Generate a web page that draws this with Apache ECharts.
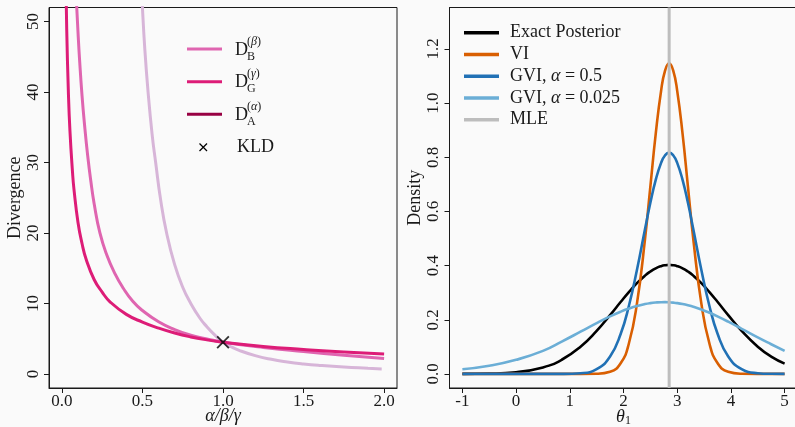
<!DOCTYPE html>
<html><head><meta charset="utf-8">
<script src="https://cdn.jsdelivr.net/npm/echarts@6/dist/echarts.min.js"></script>
<style>html,body{margin:0;padding:0;background:#fafafa}#c{width:795px;height:427px}</style>
</head><body><div id="c"></div><script>
// ---- left panel data (divergence vs alpha/beta/gamma) ----
const paramG = [0.025,0.03,0.04,0.05,0.066,0.075,0.1,0.125,0.15,0.2,0.25,0.3,0.4,0.5,0.6,0.7,0.8,0.9,1.0,1.25,1.5,1.75,2.0];
const divG   = [55.3,48.9,40.2,34.5,28.6,26.2,21.5,18.5,16.3,13.4,11.6,10.2,8.45,7.35,6.5,5.8,5.25,4.83,4.5,3.9,3.47,3.1,2.81];
const paramB = [0.09,0.1,0.11,0.125,0.14,0.16,0.18,0.2,0.236,0.28,0.33,0.38,0.44,0.5,0.6,0.7,0.8,0.9,1.0,1.25,1.5,1.75,2.0];
const divB   = [53,48.5,44.5,39.5,35.5,31,27.3,24.2,20,16.8,14.2,12.2,10.3,9.0,7.4,6.3,5.5,4.95,4.5,3.75,3.17,2.65,2.18];
const paramA = [0.495,0.5,0.515,0.535,0.56,0.582,0.613,0.65,0.7,0.75,0.8,0.857,0.9,0.95,1.0,1.05,1.1,1.2,1.3,1.4,1.5,1.6,1.75,1.9,1.985];
const divA   = [55,52,46,40,34,30,24.7,20,15.5,12.3,10.0,7.9,6.7,5.5,4.5,3.85,3.34,2.59,2.07,1.70,1.42,1.21,0.97,0.80,0.71];
const kldPoint = [1.0, 4.5];
const leftXTicks = [0,0.5,1,1.5,2];
const leftYTicks = [0,10,20,30,40,50];

// ---- right panel data (densities vs theta_1) ----
const theta   = [-1,-0.5,0,0.5,0.85,1.2,1.5,1.75,1.95,2.1,2.25,2.4,2.5,2.6,2.7,2.775,2.85,2.925,3.0,3.1,3.2,3.3,3.45,3.6,3.75,3.95,4.2,4.5,4.75,5.0];
const exactPost = [0.0002,0.0013,0.0064,0.0241,0.0523,0.1004,0.1589,0.2171,0.2663,0.3021,0.3350,0.3630,0.3781,0.3899,0.3979,0.4013,0.4025,0.4013,0.3979,0.3899,0.3781,0.3630,0.3350,0.3021,0.2663,0.2171,0.1589,0.1004,0.0638,0.0381];
const viDens    = [0,0,0,0,0,0,0.0006,0.0078,0.0405,0.1124,0.2594,0.4971,0.6917,0.8862,1.0453,1.1207,1.147,1.1207,1.0453,0.8862,0.6917,0.4971,0.2594,0.1124,0.0405,0.0078,0.0006,0,0,0];
const gvi05     = [0,0,0,0,0.0002,0.0027,0.0178,0.0644,0.1492,0.2508,0.3837,0.5341,0.6317,0.7165,0.7793,0.8074,0.817,0.8074,0.7793,0.7165,0.6317,0.5341,0.3837,0.2508,0.1492,0.0644,0.0178,0.0027,0.0004,0.0001];
const gvi0025   = [0.017,0.030,0.052,0.085,0.1194,0.1559,0.1877,0.2125,0.2301,0.2414,0.2508,0.2579,0.2614,0.2637,0.2649,0.2650,0.2644,0.2632,0.2614,0.2579,0.2534,0.2479,0.2378,0.2259,0.2125,0.1928,0.1666,0.1348,0.1096,0.0850];
const mleTheta = 2.85;
const rightXTicks = [-1,0,1,2,3,4,5];
const rightYTicks = [0,0.2,0.4,0.6,0.8,1.0,1.2];

const FONT = '"Liberation Serif","Times New Roman",serif';
const INK = '#1a1a1a';
const zip = (xs, ys) => xs.map((x, i) => [x, ys[i]]);

const chart = echarts.init(document.getElementById('c'), null, {renderer: 'canvas'});

function xAxisCfg(gi, min, max, ticks, fmt, name, nameRich) {
  return {
    gridIndex: gi, type: 'value', min: min, max: max,
    axisLine: {show: true, onZero: false, lineStyle: {color: INK, width: 1}},
    axisTick: {show: true, length: 5, customValues: ticks, lineStyle: {color: INK}},
    axisLabel: {customValues: ticks, formatter: fmt, color: INK, fontFamily: FONT, fontSize: 17, margin: 5},
    splitLine: {show: false},
    name: name, nameLocation: 'middle', nameGap: 19, nameMoveOverlap: false,
    nameTextStyle: Object.assign({fontFamily: FONT, fontSize: 18, color: INK}, nameRich || {})
  };
}
function yAxisCfg(gi, min, max, ticks, fmt, name) {
  return {
    gridIndex: gi, type: 'value', min: min, max: max,
    axisLine: {show: true, onZero: false, lineStyle: {color: INK, width: 1}},
    axisTick: {show: true, length: 5, customValues: ticks, lineStyle: {color: INK}},
    axisLabel: {customValues: ticks, formatter: fmt, color: INK, fontFamily: FONT, fontSize: 17, margin: 7, rotate: 90},
    splitLine: {show: false},
    name: name, nameLocation: 'middle', nameGap: 25, nameMoveOverlap: false,
    nameTextStyle: {fontFamily: FONT, fontSize: 18, color: INK}
  };
}

function lineSeries(name, xi, yi, data, color, width) {
  return {
    name: name, type: 'line', xAxisIndex: xi, yAxisIndex: yi, data: data,
    showSymbol: false, symbol: 'none', smooth: 0.5, clip: true,
    color: color, itemStyle: {color: color},
    lineStyle: {color: color, width: width}, emphasis: {disabled: true}
  };
}

// left legend (graphic, needs stacked sub/superscripts)
const legRows = [
  {y: 49,    sup: 'β', sub: 'B', color: '#DF65B0'},
  {y: 81.7,  sup: 'γ', sub: 'G', color: '#DD1C77'},
  {y: 114.3, sup: 'α', sub: 'A', color: '#980043'}
];
const graphic = [];
legRows.forEach(r => {
  graphic.push({type: 'line', shape: {x1: 187, y1: r.y, x2: 222, y2: r.y}, style: {stroke: r.color, lineWidth: 3}});
  graphic.push({type: 'text', x: 235, y: r.y + 1, style: {text: 'D', fontFamily: FONT, fontSize: 18, fill: INK, align: 'left', verticalAlign: 'middle'}});
  graphic.push({type: 'text', x: 247, y: r.y - 7.5, style: {text: '({i|' + r.sup + '})', fontFamily: FONT, fontSize: 12, fill: INK, align: 'left', verticalAlign: 'middle',
    rich: {i: {fontFamily: FONT, fontSize: 12, fontStyle: 'italic', fill: INK}}}});
  graphic.push({type: 'text', x: 247, y: r.y + 7.5, style: {text: r.sub, fontFamily: FONT, fontSize: 12, fill: INK, align: 'left', verticalAlign: 'middle'}});
});
graphic.push({type: 'line', shape: {x1: 199.5, y1: 143.5, x2: 207, y2: 151}, style: {stroke: '#000', lineWidth: 1.3}});
graphic.push({type: 'line', shape: {x1: 207, y1: 143.5, x2: 199.5, y2: 151}, style: {stroke: '#000', lineWidth: 1.3}});
graphic.push({type: 'text', x: 237, y: 147, style: {text: 'KLD', fontFamily: FONT, fontSize: 18, fill: INK, align: 'left', verticalAlign: 'middle'}});

const option = {
  backgroundColor: '#fafafa',
  animation: false,
  grid: [
    {left: 49, top: 7.5, width: 348, height: 380.5, show: true, borderColor: INK, borderWidth: 1, backgroundColor: 'transparent', outerBoundsMode: 'none', containLabel: false},
    {left: 449.5, top: 7.5, width: 348, height: 380.5, show: true, borderColor: INK, borderWidth: 1, backgroundColor: 'transparent', outerBoundsMode: 'none', containLabel: false}
  ],
  xAxis: [
    xAxisCfg(0, -0.08, 2.08, leftXTicks, v => v.toFixed(1), 'α/β/γ', {fontStyle: 'italic'}),
    xAxisCfg(1, -1.24, 5.24, rightXTicks, v => String(v), '{i|θ}{s|1}', {
      rich: {i: {fontFamily: FONT, fontSize: 18, fontStyle: 'italic', color: INK, lineHeight: 20, verticalAlign: 'middle'},
             s: {fontFamily: FONT, fontSize: 12, color: INK, lineHeight: 11, verticalAlign: 'bottom'}}})
  ],
  yAxis: [
    yAxisCfg(0, -2, 52, leftYTicks, v => String(v), 'Divergence'),
    yAxisCfg(1, -0.052, 1.353, rightYTicks, v => v.toFixed(1), 'Density')
  ],
  legend: {
    show: true, orient: 'vertical', left: 459, top: 18.7, selectedMode: false,
    itemWidth: 35, itemHeight: 3.5, itemGap: 3.75, icon: 'rect',
    data: ['Exact Posterior', 'VI', 'GVI, α = 0.5', 'GVI, α = 0.025', 'MLE'],
    formatter: n => n.replace('α', '{i|α}'),
    textStyle: {fontFamily: FONT, fontSize: 18, color: INK, lineHeight: 18, padding: [0, 0, 0, 6],
      rich: {i: {fontFamily: FONT, fontSize: 18, fontStyle: 'italic', color: INK}}}
  },
  graphic: graphic,
  series: [
    lineSeries('DA', 0, 0, zip(paramA, divA), '#D7B5D8', 3),
    lineSeries('DB', 0, 0, zip(paramB, divB), '#DF65B0', 3),
    lineSeries('DG', 0, 0, zip(paramG, divG), '#DD1C77', 3),
    {name: 'KLD', type: 'scatter', xAxisIndex: 0, yAxisIndex: 0, data: [kldPoint],
     symbol: 'path://M0,1.2L1.2,0L6,4.8L10.8,0L12,1.2L7.2,6L12,10.8L10.8,12L6,7.2L1.2,12L0,10.8L4.8,6Z',
     symbolSize: 13, itemStyle: {color: '#000'}, emphasis: {disabled: true}, z: 5},
    lineSeries('Exact Posterior', 1, 1, zip(theta, exactPost), '#000000', 2.6),
    lineSeries('VI', 1, 1, zip(theta, viDens), '#D95F02', 2.6),
    lineSeries('GVI, α = 0.5', 1, 1, zip(theta, gvi05), '#2171B5', 2.6),
    lineSeries('GVI, α = 0.025', 1, 1, zip(theta, gvi0025), '#6BAED6', 2.6),
    Object.assign(lineSeries('MLE', 1, 1, [[mleTheta, -0.052], [mleTheta, 1.353]], '#BDBDBD', 3), {smooth: false})
  ]
};
chart.setOption(option);
</script></body></html>
